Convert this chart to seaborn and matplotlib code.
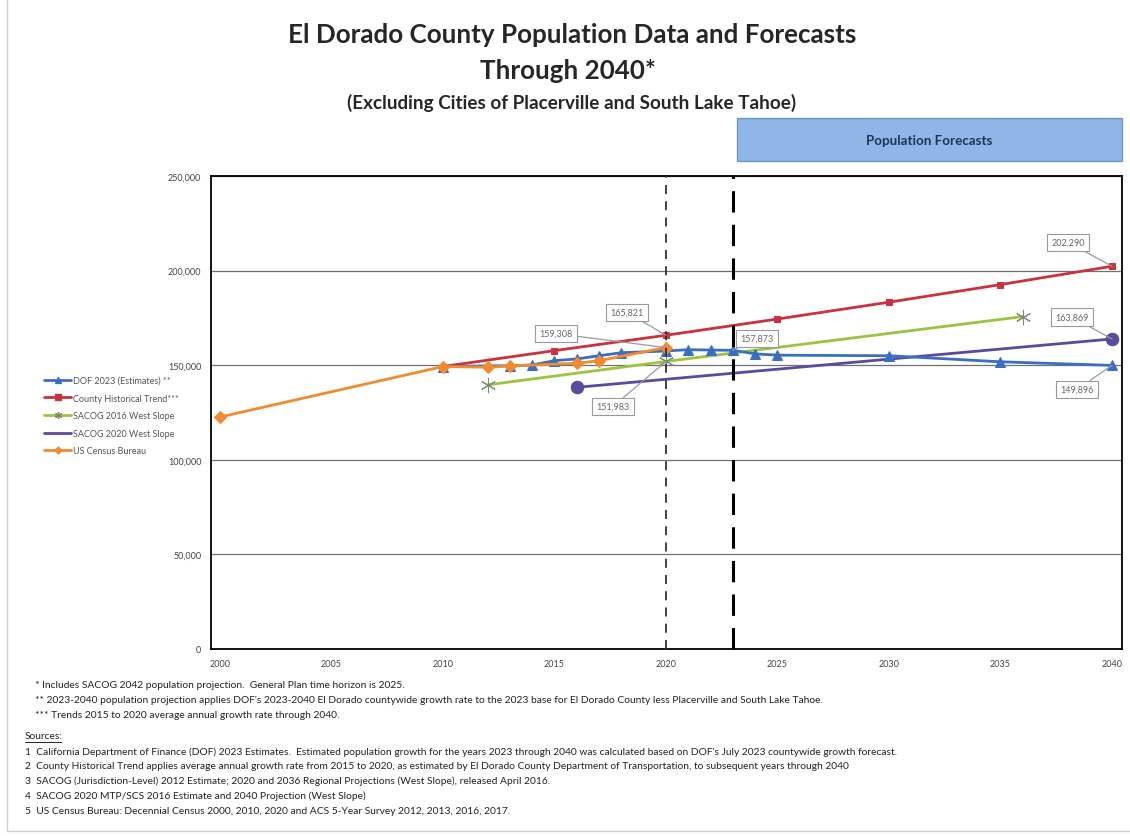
import matplotlib
matplotlib.use("Agg")
import matplotlib.pyplot as plt
from matplotlib.lines import Line2D
from matplotlib.patches import Rectangle
from matplotlib.ticker import FuncFormatter
import seaborn as sns
import pandas as pd

# ---- data ---------------------------------------------------------------
dof_years = [2010, 2013, 2014, 2015, 2016, 2017, 2018, 2020, 2021, 2022, 2023, 2024, 2025, 2030, 2035, 2040]
dof_pop = [149300, 149700, 150100, 152400, 153300, 155000, 156600, 157500, 158200, 158000, 157873, 156000, 155300, 155000, 151800, 149896]

trend_years = [2010, 2015, 2020, 2025, 2030, 2035, 2040]
trend_pop = [149300, 157700, 165821, 174400, 183300, 192600, 202290]

sacog16_years = [2012, 2020, 2036]
sacog16_pop = [139600, 151983, 175700]

sacog20_years = [2016, 2040]
sacog20_pop = [138300, 163869]

census_years = [2000, 2010, 2012, 2013, 2016, 2017, 2020]
census_pop = [122600, 149300, 148900, 149600, 151000, 152400, 159308]

series_names = ["DOF 2023 (Estimates) **", "County Historical Trend***",
                "SACOG 2016 West Slope", "SACOG 2020 West Slope", "US Census Bureau"]

x_ticks = [2000, 2005, 2010, 2015, 2020, 2025, 2030, 2035, 2040]
y_ticks = [0, 50000, 100000, 150000, 200000, 250000]

footnotes = [
    "* Includes SACOG 2042 population projection.  General Plan time horizon is 2025.",
    "** 2023-2040 population projection applies DOF's 2023-2040 El Dorado countywide growth rate to the 2023 base for El Dorado County less Placerville and South Lake Tahoe.",
    "*** Trends 2015 to 2020 average annual growth rate through 2040.",
]
sources = [
    "1  California Department of Finance (DOF) 2023 Estimates.  Estimated population growth for the years 2023 through 2040 was calculated based on DOF's July 2023 countywide growth forecast.",
    "2  County Historical Trend applies average annual growth rate from 2015 to 2020, as estimated by El Dorado County Department of Transportation, to subsequent years through 2040",
    "3  SACOG (Jurisdiction-Level) 2012 Estimate; 2020 and 2036 Regional Projections (West Slope), released April 2016.",
    "4  SACOG 2020 MTP/SCS 2016 Estimate and 2040 Projection (West Slope)",
    "5  US Census Bureau: Decennial Census 2000, 2010, 2020 and ACS 5-Year Survey 2012, 2013, 2016, 2017.",
]

# ---- style --------------------------------------------------------------
sns.set_theme(style="white")
plt.rcParams["font.family"] = ["Lato", "DejaVu Sans"]

BLUE = "#3a6fbf"
RED = "#c9323f"
GREEN = "#9cc43e"
PURPLE = "#5a4b9c"
ORANGE = "#f28a30"

fig = plt.figure(figsize=(11.3, 8.37), dpi=100)
fig.patch.set_facecolor("white")
ax = fig.add_axes([211 / 1130, 1 - 650 / 837, (1122 - 211) / 1130, (650 - 177) / 837])


def draw(years, pop, color, marker, ms, lw=2.0, z=2, mec=None):
    df = pd.DataFrame({"year": years, "pop": pop})
    sns.lineplot(data=df, x="year", y="pop", ax=ax, color=color, lw=lw,
                 marker=marker, markersize=ms, markeredgecolor=mec or color,
                 markerfacecolor=color, zorder=z, legend=False)


draw(sacog20_years, sacog20_pop, PURPLE, "o", 9, z=2)
draw(sacog16_years, sacog16_pop, GREEN, (6, 2, 0), 11, z=3, mec="#7a8a70")
draw(trend_years, trend_pop, RED, "s", 5, z=3)
draw(dof_years, dof_pop, BLUE, "^", 7, z=4)
draw(census_years, census_pop, ORANGE, "D", 6, z=5)

# forecast markers
ax.axvline(2020, color="#333333", lw=1.3, dashes=(5, 4), zorder=6)
ax.axvline(2023, color="black", lw=2.2, dashes=(7, 4), zorder=6)

ax.set_xlim(1999.6, 2040.45)
ax.set_ylim(0, 250000)
ax.set_xticks(x_ticks)
ax.set_yticks(y_ticks)
ax.yaxis.set_major_formatter(FuncFormatter(lambda v, p: f"{int(v):,}"))
ax.tick_params(axis="both", labelsize=6.5, labelcolor="#444444", length=0, pad=7)
ax.set_xlabel("")
ax.set_ylabel("")
ax.grid(axis="y", color="#707070", lw=0.9)
ax.grid(axis="x", visible=False)
for sp in ax.spines.values():
    sp.set_color("black")
    sp.set_linewidth(1.3)


# value call-outs
def callout(x, y, dx, dy):
    ax.annotate(f"{y:,}", xy=(x, y), xytext=(dx, dy), textcoords="offset pixels",
                ha="center", va="center", fontsize=6.5, color="#666666",
                bbox=dict(boxstyle="square,pad=0.45", fc="white", ec="#9a9a9a", lw=0.8),
                arrowprops=dict(arrowstyle="-", color="#9a9a9a", lw=0.9, shrinkA=0, shrinkB=0),
                zorder=8)


callout(2020, trend_pop[2], -39, 23)
callout(2020, census_pop[-1], -110, 14)
callout(2023, dof_pop[10], 24, 12)
callout(2020, sacog16_pop[1], -53, -45)
callout(2040, trend_pop[-1], -44, 24)
callout(2040, sacog20_pop[-1], -40, 22)
callout(2040, dof_pop[-1], -35, -24)

# legend
handles = [
    Line2D([], [], color=BLUE, lw=2, marker="^", ms=4),
    Line2D([], [], color=RED, lw=2, marker="s", ms=4),
    Line2D([], [], color=GREEN, lw=2, marker=(6, 2, 0), ms=5, mec="#7a8a70"),
    Line2D([], [], color=PURPLE, lw=2),
    Line2D([], [], color=ORANGE, lw=2, marker="D", ms=3.5),
]
leg = fig.legend(handles, series_names, loc="upper left",
                 bbox_to_anchor=(44 / 1130, 1 - 377 / 837), frameon=False,
                 fontsize=6.5, handlelength=3.0, handletextpad=0.2,
                 labelspacing=0.95, borderpad=0, borderaxespad=0)
for t in leg.get_texts():
    t.set_color("#555555")

# titles
fig.text(572 / 1130, 1 - 35 / 837, "El Dorado County Population Data and Forecasts",
         ha="center", va="center", fontsize=18.7, fontweight="bold", color="#262626")
fig.text(568 / 1130, 1 - 71 / 837, "Through 2040*",
         ha="center", va="center", fontsize=18.7, fontweight="bold", color="#262626")
fig.text(572 / 1130, 1 - 103 / 837, "(Excluding Cities of Placerville and South Lake Tahoe)",
         ha="center", va="center", fontsize=13.6, fontweight="bold", color="#262626")

# forecast banner
fig.patches.append(Rectangle((737 / 1130, 1 - 162 / 837), (1122 - 737) / 1130, 43 / 837,
                             transform=fig.transFigure, fc="#8fb6e6", ec="#6f97c9", lw=1))
fig.text(929 / 1130, 1 - 141 / 837, "Population Forecasts", ha="center", va="center",
         fontsize=9.6, fontweight="bold", color="#1f3357")

# notes
y = 686
for line in footnotes:
    fig.text(35 / 1130, 1 - y / 837, line, ha="left", va="center", fontsize=7.4, color="#222222")
    y += 15
fig.text(25 / 1130, 1 - 737 / 837, "Sources:", ha="left", va="center",
         fontsize=7.4, color="#222222")
fig.add_artist(Line2D([25 / 1130, 61 / 1130], [1 - 743 / 837, 1 - 743 / 837],
                      transform=fig.transFigure, color="#222222", lw=0.7))
y = 752
for line in sources:
    fig.text(25 / 1130, 1 - y / 837, line, ha="left", va="center", fontsize=7.4, color="#222222")
    y += 14.8

# page edge
fig.add_artist(Line2D([7 / 1130, 7 / 1130], [1 - 832 / 837, 1.0], transform=fig.transFigure,
                      color="#d0d0d0", lw=1))
fig.add_artist(Line2D([7 / 1130, 1.0], [1 - 832 / 837, 1 - 832 / 837], transform=fig.transFigure,
                      color="#d0d0d0", lw=1))

fig.savefig("out.png", dpi=100, facecolor="white")
